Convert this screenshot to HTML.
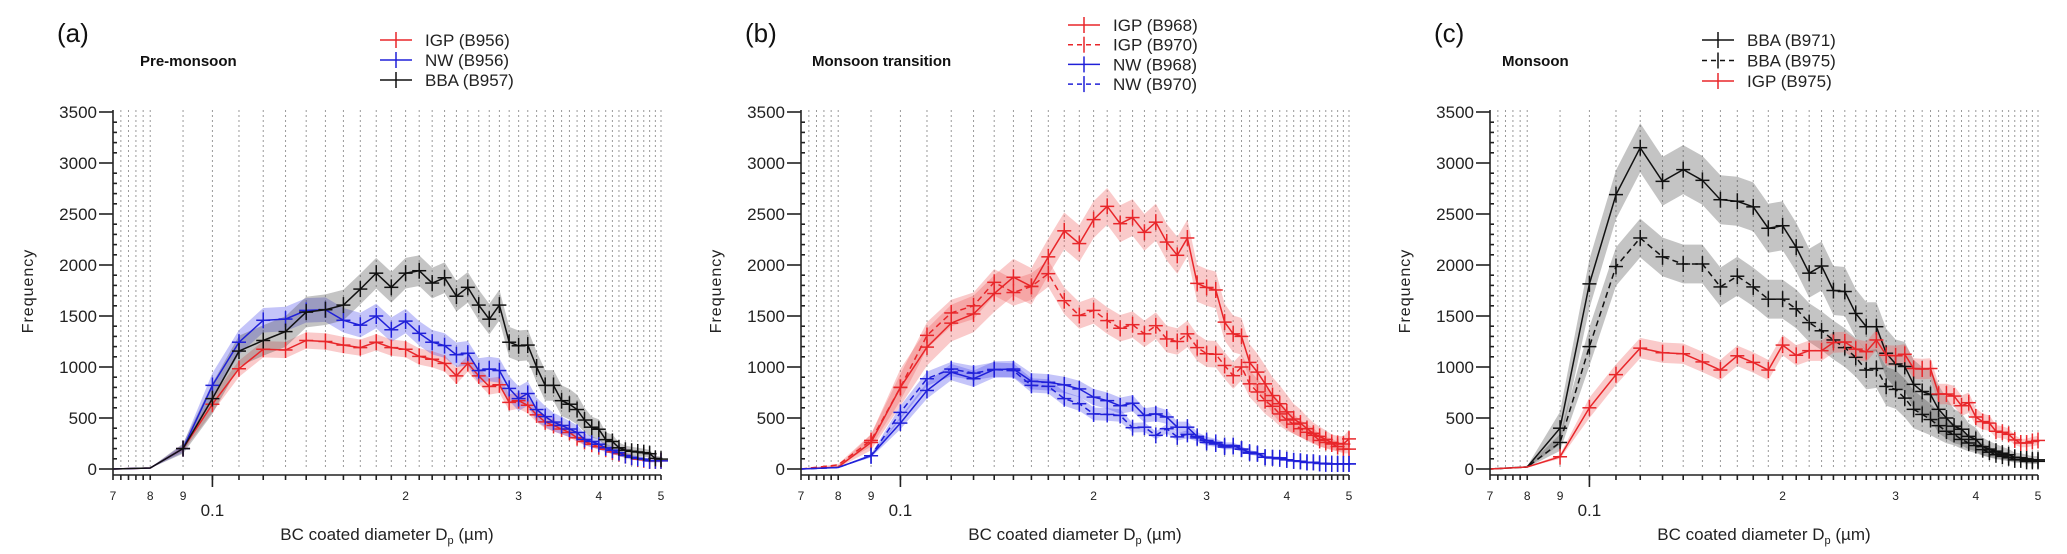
<!DOCTYPE html>
<html><head><meta charset="utf-8">
<style>
html,body{margin:0;padding:0;background:#fff;}
svg{display:block;font-family:"Liberation Sans",Arial,sans-serif;}
</style></head>
<body>
<svg id="fig" width="2067" height="554" viewBox="0 0 2067 554" xmlns="http://www.w3.org/2000/svg"></svg>
<script>
// ---- data ----
const xs = [0.07,0.08,0.09,0.10,0.11,0.12,0.13,0.14,0.15,0.16,0.17,0.18,0.19,0.20,0.21,0.22,0.23,0.24,0.25,0.26,0.27,0.28,0.29,0.30,0.31,0.32,0.33,0.34,0.35,0.36,0.37,0.38,0.39,0.40,0.41,0.42,0.43,0.44,0.45,0.46,0.47,0.48,0.49,0.50];
const yTicks = [0,500,1000,1500,2000,2500,3000,3500];
const xTickVals = [0.07,0.08,0.09,0.2,0.3,0.4,0.5];
const xTickLabels = ["7","8","9","2","3","4","5"];
// panel a
const aBBA = [0,10,200,690,1156,1260,1347,1538,1562,1607,1764,1920,1781,1920,1944,1823,1875,1694,1781,1607,1469,1607,1243,1208,1215,1000,820,820,670,635,583,480,410,390,288,270,208,184,174,167,160,150,104,97];
const aNW = [0,10,200,820,1243,1458,1470,1555,1562,1458,1410,1500,1365,1450,1330,1243,1210,1120,1135,965,980,965,790,690,740,583,514,460,427,392,358,290,270,243,208,184,160,132,115,104,97,80,80,80];
const aIGP = [0,10,200,635,983,1174,1167,1260,1250,1215,1190,1243,1190,1174,1104,1076,1035,913,1035,913,809,826,653,670,625,531,462,427,392,358,306,270,243,218,194,167,150,132,115,97,90,80,80,80];
// panel b
const bIGP968 = [0,20,260,800,1195,1430,1520,1720,1880,1790,2080,2335,2210,2445,2575,2405,2465,2320,2420,2225,2095,2265,1820,1780,1755,1440,1325,1300,1045,950,835,720,640,560,490,450,395,350,320,290,260,250,245,295];
const bIGP970 = [0,40,280,800,1310,1530,1600,1830,1730,1790,1915,1650,1505,1555,1455,1380,1415,1325,1405,1275,1250,1325,1190,1130,1125,1015,915,1000,835,755,670,615,540,480,440,395,360,330,280,260,245,220,195,195];
const bNW968 = [0,15,130,450,770,950,885,975,980,860,850,825,785,705,670,620,645,525,540,510,410,410,320,280,260,230,230,195,165,150,115,110,110,90,80,75,65,65,55,55,50,50,50,50];
const bNW970 = [0,15,130,555,885,980,940,975,965,820,810,690,640,540,535,525,405,410,330,395,315,340,305,260,245,215,220,195,155,150,115,110,100,90,80,75,65,65,55,50,50,50,50,50];
// panel c
const cBBA971 = [0,20,400,1815,2690,3150,2820,2935,2830,2640,2625,2570,2360,2385,2175,1920,1990,1750,1740,1525,1395,1395,1135,1030,1005,830,760,730,585,500,420,390,320,290,220,195,175,155,140,115,110,100,90,90];
const cBBA975 = [0,20,260,1200,1985,2265,2080,2010,2010,1785,1890,1785,1665,1665,1570,1435,1355,1265,1190,1095,970,985,810,780,695,585,535,485,425,370,340,290,255,230,190,165,140,125,110,90,90,75,75,75];
const cIGP975 = [0,20,120,600,925,1185,1140,1130,1050,970,1110,1045,970,1215,1115,1160,1160,1240,1245,1175,1150,1265,1115,1110,1125,985,980,985,735,735,715,620,650,510,465,450,370,360,340,285,255,255,270,280];

// ---- drawing ----
const NS = "http://www.w3.org/2000/svg";
const svg = document.getElementById("fig");
function mk(tag, attrs, parent){ const e=document.createElementNS(NS,tag); for(const k in attrs) e.setAttribute(k,attrs[k]); (parent||svg).appendChild(e); return e; }

const Y0 = 469, Y3500 = 112, AXW = 548, XAXY = 475;
function yScale(v){ return Y0 - (v/3500)*(Y0-Y3500); }
function makeX(L){ const a=Math.log(0.07), b=Math.log(0.5); return v => L + (Math.log(v)-a)/(b-a)*AXW; }

const gridVals = [0.072,0.074,0.076,0.078,0.08,0.09,0.1];
for(let i=11;i<=50;i++) gridVals.push(i/100);

function drawPanel(off, L, letter, title, titleX, series, legend){
  const g = mk("g", {}); 
  
  
  const x = makeX(L);
  // letter
  const lt = mk("text",{x:off+57,y:42,"font-size":26,fill:"#111"},g); lt.textContent="("+letter+")";
  
  
  const tt = mk("text",{x:titleX,y:66,"font-size":15,"font-weight":"bold",fill:"#111"},g); tt.textContent=title;
  
  
  // grid
  const grid = mk("g",{stroke:"#9a9a9a","stroke-width":1,"stroke-dasharray":"2,3"},g);
  
  
  gridVals.forEach(v=>{ const gx=x(v); if(gx>L+2) mk("line",{x1:gx,x2:gx,y1:Y3500-2,y2:Y0},grid); });
  // bands
  series.forEach(s=>{
    let top="", bot=[];
    s.vals.forEach((v,i)=>{ const u=v+s.err*Math.min(1,v/600); const d=Math.max(0,v-s.err*Math.min(1,v/600));
      top += (i?"L":"M")+x(xs[i]).toFixed(1)+","+yScale(u).toFixed(1);
      bot.unshift(x(xs[i]).toFixed(1)+","+yScale(d).toFixed(1)); });
    const p = mk("path",{d:top+"L"+bot.join("L")+"Z",fill:s.band,stroke:"none"},g);
    
    
  });
  // lines + markers
  series.forEach(s=>{
    const pts = s.vals.map((v,i)=>x(xs[i]).toFixed(1)+","+yScale(v).toFixed(1)).join(" ");
    const pl = mk("polyline",{points:pts,fill:"none",stroke:s.color,"stroke-width":1.5,"stroke-dasharray":s.dash?"6,4":"none"},g);
    
    
    const mg = mk("g",{stroke:s.color,"stroke-width":1.5},g);
    
    
    s.vals.forEach((v,i)=>{ if(i<3 && v<50) return; const px=x(xs[i]), py=yScale(v);
      mk("line",{x1:px-7,x2:px+7,y1:py,y2:py},mg); mk("line",{x1:px,x2:px,y1:py-8,y2:py+8},mg); });
  });
  // axes
  const ax = mk("g",{stroke:"#222","stroke-width":1.6,fill:"none"},g);
  
  
  mk("line",{x1:L,x2:L,y1:Y3500-2,y2:XAXY},ax);
  mk("line",{x1:L,x2:L+AXW,y1:XAXY,y2:XAXY},ax);
  for(let v=0; v<=3500; v+=100){ const yy=yScale(v); mk("line",{x1:L,x2:L+(v%500===0?0:4),y1:yy,y2:yy},ax); }
  yTicks.forEach(v=>{ const yy=yScale(v); mk("line",{x1:L-14,x2:L,y1:yy,y2:yy},ax);
    const t=mk("text",{x:L-16,y:yy+6,"font-size":17,"text-anchor":"end",fill:"#222",stroke:"none"},g); t.textContent=v;
    
     });
  gridVals.concat([0.07]).forEach(v=>{ const gx=x(v); mk("line",{x1:gx,x2:gx,y1:XAXY,y2:XAXY+5},ax); });
  mk("line",{x1:x(0.1),x2:x(0.1),y1:XAXY,y2:XAXY+12},ax);
  xTickVals.forEach((v,i)=>{ const t=mk("text",{x:x(v),y:500,"font-size":12,"text-anchor":"middle",fill:"#222"},g); t.textContent=xTickLabels[i];
    
     });
  const t01=mk("text",{x:x(0.1),y:516,"font-size":17,"text-anchor":"middle",fill:"#222"},g); t01.textContent="0.1";
  
  
  const xt=mk("text",{x:L+AXW/2,y:540,"font-size":17,"text-anchor":"middle",fill:"#222"},g);
  xt.innerHTML='BC coated diameter D<tspan font-size="11" dy="4">p</tspan><tspan dy="-4"> (µm)</tspan>';
  
  
  const yt=mk("text",{x:0,y:0,"font-size":16,"text-anchor":"middle","letter-spacing":1,fill:"#222",transform:"translate("+(L-80)+",291) rotate(-90)"},g);
  yt.textContent="Frequency";
  
  
  // legend
  legend.rows.forEach((r,i)=>{
    const yy = legend.y0 + i*legend.dy;
    const lg = mk("g",{},g);
    
    
    mk("line",{x1:legend.x,x2:legend.x+32,y1:yy,y2:yy,stroke:r.color,"stroke-width":1.5,"stroke-dasharray":r.dash?"5,4":"none"},lg);
    mk("line",{x1:legend.x+16,x2:legend.x+16,y1:yy-8,y2:yy+8,stroke:r.color,"stroke-width":1.5},lg);
    const t=mk("text",{x:legend.x+45,y:yy+6,"font-size":17,fill:"#222"},lg); t.textContent=r.label;
  });
}
const RED="#e8262a", BLUE="#2020d8", BLK="#111";
const RB="rgba(240,90,90,0.32)", BB="rgba(70,70,235,0.32)", KB="rgba(60,60,60,0.3)";
drawPanel(0,113,"a","Pre-monsoon",140,[
  {vals:aIGP,color:RED,band:RB,err:80},
  {vals:aNW,color:BLUE,band:BB,err:120},
  {vals:aBBA,color:BLK,band:KB,err:150}
],{x:380,y0:40,dy:20,rows:[{label:"IGP (B956)",color:RED},{label:"NW (B956)",color:BLUE},{label:"BBA (B957)",color:BLK}]});
drawPanel(688,801,"b","Monsoon transition",812,[
  {vals:bIGP968,color:RED,band:RB,err:180},
  {vals:bIGP970,color:RED,band:RB,err:130,dash:true},
  {vals:bNW968,color:BLUE,band:BB,err:80},
  {vals:bNW970,color:BLUE,band:BB,err:70,dash:true}
],{x:1068,y0:25,dy:19.7,rows:[{label:"IGP (B968)",color:RED},{label:"IGP (B970)",color:RED,dash:true},{label:"NW (B968)",color:BLUE},{label:"NW (B970)",color:BLUE,dash:true}]});
drawPanel(1377,1490,"c","Monsoon",1502,[
  {vals:cBBA971,color:BLK,band:KB,err:240},
  {vals:cBBA975,color:BLK,band:KB,err:190,dash:true},
  {vals:cIGP975,color:RED,band:RB,err:100}
],{x:1702,y0:40,dy:20.5,rows:[{label:"BBA (B971)",color:BLK},{label:"BBA (B975)",color:BLK,dash:true},{label:"IGP (B975)",color:RED}]});
</script>
</body></html>
